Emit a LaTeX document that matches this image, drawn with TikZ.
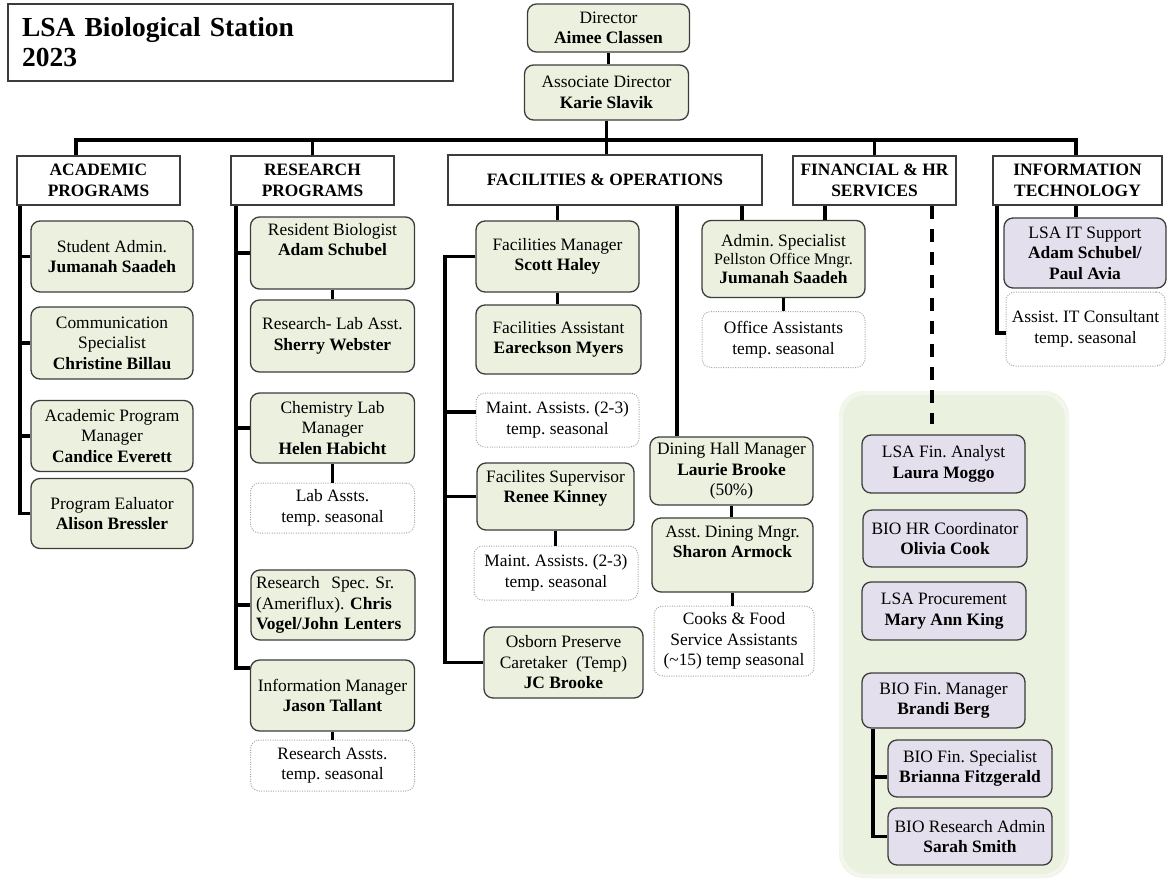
\documentclass[tikz,border=0pt]{standalone}
\usepackage{fontspec}
\setmainfont{Liberation Serif}
\frenchspacing
\definecolor{gfill}{HTML}{EBF1DE}
\definecolor{pfill}{HTML}{E4DFEC}
\definecolor{panelfill}{HTML}{EBF1DF}
\definecolor{paneledge}{HTML}{F2F6EC}
\definecolor{bordc}{HTML}{3C3C3C}
\newcommand\orgfnt{\fontsize{17.4}{20.5}\selectfont\frenchspacing}
\newcommand\titlefnt{\fontsize{27.5}{30}\selectfont\bfseries}
\tikzset{
  conn/.style={line width=3.2pt, black, line join=miter},
  sz/.style 2 args={minimum width=#1, minimum height=#2},
  gbox/.style={draw=bordc, line width=1.3pt, rounded corners=9pt, fill=gfill, align=center, inner sep=0pt, font=\orgfnt, text=black},
  pbox/.style={gbox, fill=pfill},
  dbox/.style={draw=gray!70, line width=1pt, dash pattern=on 1pt off 1.4pt, rounded corners=9pt, fill=white, align=center, inner sep=0pt, font=\orgfnt, text=black},
  hbox/.style={draw=bordc, line width=1.3pt, fill=white, align=center, inner sep=0pt, font=\orgfnt\bfseries, text=black},
}
\begin{document}
\begin{tikzpicture}[x=1pt,y=-1pt]
\useasboundingbox (0,0) rectangle (1167,879);
% panel
\fill[panelfill, rounded corners=25pt] (839,391) rectangle (1069,878);
\draw[paneledge, line width=4pt, rounded corners=25pt] (841,393) rectangle (1067,876);

% title
\node[draw=bordc, line width=1.3pt, sz={445}{77}, text width=417, align=left, inner xsep=14pt, inner ysep=0pt, font=\titlefnt] (title) at (230.5,42.5) {LSA Biological Station\\2023};

% top
\node[gbox,sz={162}{48}] (dir) at (608.5,28) {Director\\\textbf{Aimee Classen}};
\node[gbox,sz={164}{55}] (adir) at (606.5,92.5) {Associate Director\\\textbf{Karie Slavik}};

% headers
\node[hbox,sz={163}{49}] (acad) at (98.5,180.5) {ACADEMIC\\PROGRAMS};
\node[hbox,sz={163}{49}] (resp) at (312.5,180.5) {RESEARCH\\PROGRAMS};
\node[hbox,sz={314}{50}] (fac) at (605,180) {FACILITIES \& OPERATIONS};
\node[hbox,sz={163}{49}] (fin) at (874.5,180.5) {FINANCIAL \& HR\\SERVICES};
\node[hbox,sz={169}{49}] (it) at (1077.5,180.5) {INFORMATION\\TECHNOLOGY};

% academic
\node[gbox,sz={162}{71}] (sa) at (112,256.5) {Student Admin.\\\textbf{Jumanah Saadeh}};
\node[gbox,sz={162}{72}] (cs) at (112,343) {Communication\\Specialist\\\textbf{Christine Billau}};
\node[gbox,sz={162}{71}] (apm) at (112,436) {Academic Program\\Manager\\\textbf{Candice Everett}};
\node[gbox,sz={162}{70}] (pe) at (112,513.5) {Program Ealuator\\\textbf{Alison Bressler}};

% research
\node[gbox,sz={164}{72}] (rb) at (332.5,253) {Resident Biologist\\\textbf{Adam Schubel}\\\strut};
\node[gbox,sz={164}{72}] (rla) at (332.5,336) {Research- Lab Asst.\\\textbf{Sherry Webster}};
\node[gbox,sz={164}{70}] (clm) at (332.5,428) {Chemistry Lab\\Manager\\\textbf{Helen Habicht}};
\node[dbox,sz={164}{50}] (la) at (332.5,508) {Lab Assts.\\temp. seasonal};
\node[gbox,sz={164}{70},text width=154,align=left,inner xsep=5pt] (rss) at (333,605) {Research\ \ Spec. Sr.\\(Ameriflux). \textbf{Chris}\\\textbf{Vogel/John Lenters}};
\node[gbox,sz={164}{71}] (im) at (332.5,695.5) {Information Manager\\\textbf{Jason Tallant}};
\node[dbox,sz={164}{51}] (ra) at (332.5,765.5) {Research Assts.\\temp. seasonal};

% facilities
\node[gbox,sz={163}{71}] (fm) at (557.5,256.5) {Facilities Manager\\\textbf{Scott Haley}};
\node[gbox,sz={165}{69}] (fa) at (558.5,339.5) {Facilities Assistant\\\textbf{Eareckson Myers}};
\node[dbox,sz={163}{54}] (ma1) at (557.5,420) {Maint. Assists. (2-3)\\temp. seasonal};
\node[gbox,sz={157}{67}] (fs) at (555.5,496.5) {Facilites Supervisor\\\textbf{Renee Kinney}\\~};
\node[dbox,sz={164}{54}] (ma2) at (556,573) {Maint. Assists. (2-3)\\temp. seasonal};
\node[gbox,sz={159}{71}] (ob) at (563.5,662.5) {Osborn Preserve\\Caretaker\ \ (Temp)\\\textbf{JC Brooke}};

% dining
\node[gbox,sz={163}{68}] (dhm) at (731.5,471) {Dining Hall Manager\\\textbf{Laurie Brooke}\\(50\%)};
\node[gbox,sz={161}{74}] (adm) at (732.5,555) {Asst. Dining Mngr.\\\textbf{Sharon Armock}\\\strut};
\node[dbox,sz={160}{70}] (cooks) at (734,641) {Cooks \& Food\\Service Assistants\\(\textasciitilde15) temp seasonal};

% admin
\node[gbox,sz={163}{77},font={\fontsize{17.4}{18.7}\selectfont\frenchspacing}] (as) at (783.5,259) {Admin. Specialist\\{\fontsize{16}{18}\selectfont Pellston Office Mngr.}\\\textbf{Jumanah Saadeh}};
\node[dbox,sz={163}{56}] (oa) at (783.5,339.5) {Office Assistants\\temp. seasonal};

% financial panel
\node[pbox,sz={163}{58}] (lfa) at (943.5,464) {LSA Fin. Analyst\\\textbf{Laura Moggo}};
\node[pbox,sz={164}{57}] (hr) at (945,538.5) {BIO HR Coordinator\\\textbf{Olivia Cook}};
\node[pbox,sz={164}{58}] (pr) at (944,611) {LSA Procurement\\\textbf{Mary Ann King}};
\node[pbox,sz={163}{55}] (bfm) at (943.5,700.5) {BIO Fin. Manager\\\textbf{Brandi Berg}};
\node[pbox,sz={164}{57}] (bfs) at (970,768.5) {BIO Fin. Specialist\\\textbf{Brianna Fitzgerald}};
\node[pbox,sz={164}{57}] (bra) at (970,836.5) {BIO Research Admin\\\textbf{Sarah Smith}};

% IT
\node[pbox,sz={162}{70}] (its) at (1085,253) {LSA IT Support\\\textbf{Adam Schubel/}\\\textbf{Paul Avia}};
\node[dbox,sz={159}{74}] (itc) at (1085.5,329) {Assist. IT Consultant\\temp. seasonal};

% coordinates
\coordinate (barL) at (76,140);
\coordinate (barR) at (1076,140);
\coordinate (acl) at (20,0);
\coordinate (rcl) at (236,0);
\coordinate (fcl) at (445,0);
\coordinate (bcl) at (873,0);
\coordinate (dashend) at (932,424);

% top connectors
\draw[conn] (dir.south) -- (dir.south |- adir.north);
\draw[conn] (adir.south) -- (adir.south |- fac.north);
\draw[conn] (barL |- acad.north) |- (barR) -- (barR |- it.north);
\draw[conn] (resp.north) -- (resp.north |- barL);
\draw[conn] (fin.north) -- (fin.north |- barL);

% academic connectors
\draw[conn] (acl |- acad.south) |- (pe.west);
\foreach \n in {sa,cs,apm} \draw[conn] (\n.west) -- (\n.west -| acl);

% research connectors
\draw[conn] (rcl |- resp.south) |- (im.west |- 0,668);
\foreach \n in {rb,clm,rss} \draw[conn] (\n.west) -- (\n.west -| rcl);
\draw[conn] (rb.south) -- (rb.south |- rla.north);
\draw[conn] (clm.south) -- (clm.south |- la.north);
\draw[conn] (im.south) -- (im.south |- ra.north);

% facilities connectors
\draw[conn] (fm.north) -- (fm.north |- fac.south);
\draw[conn] (fm.west) -- (fm.west -| fcl) -- (fcl |- ob.west) -- (ob.west);
\draw[conn] (ma1.west |- 0,412) -- (fcl |- 0,412);
\draw[conn] (fs.west) -- (fs.west -| fcl);
\draw[conn] (fm.south) -- (fm.south |- fa.north);
\draw[conn] (fs.south) -- (fs.south |- ma2.north);
\draw[conn] (dhm.north -| 677,0) -- (fac.south -| 677,0);
\draw[conn] (dhm.south) -- (dhm.south |- adm.north);
\draw[conn] (adm.south) -- (adm.south |- cooks.north);
\draw[conn] (as.north -| 742,0) -- (fac.south -| 742,0);
\draw[conn] (as.north -| 825,0) -- (fin.south -| 825,0);
\draw[conn] (as.south) -- (as.south |- oa.north);

% financial
\draw[conn, dash pattern=on 13pt off 10pt] (fin.south -| dashend) -- (dashend);
\draw[conn] (bfm.south -| bcl) |- (bra.west);
\draw[conn] (bfs.west |- 0,777) -- (bcl |- 0,777);

% IT
\draw[conn] (its.north -| 1076,0) -- (it.south -| 1076,0);
\draw[conn] (it.south -| 997,0) |- (itc.west |- 0,333);
\end{tikzpicture}
\end{document}
